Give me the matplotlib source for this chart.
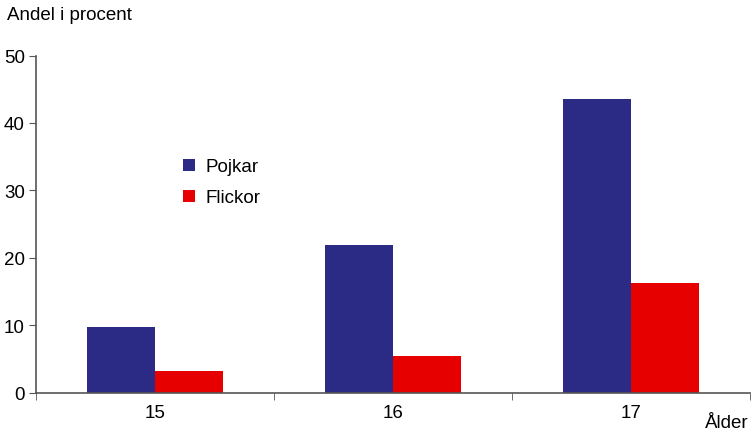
import matplotlib
matplotlib.use("Agg")
import matplotlib.pyplot as plt
import numpy as np

plt.rcParams['font.family'] = ['Liberation Sans', 'DejaVu Sans']

ages = ["15", "16", "17"]
pojkar = [9.7, 21.9, 43.6]
flickor = [3.2, 5.4, 16.3]
yticks = [0, 10, 20, 30, 40, 50]

blue = "#2B2A85"
red = "#E60000"
fs = 13.5

fig = plt.figure(figsize=(7.51, 4.35), dpi=100)
ax = fig.add_axes([36 / 751, (435 - 393.5) / 435, 714 / 751, 337 / 435])

x = np.arange(len(ages))
w = 0.286
ax.bar(x - w / 2, pojkar, width=w, color=blue, label="Pojkar")
ax.bar(x + w / 2, flickor, width=w, color=red, label="Flickor")

ax.set_xlim(-0.5, len(ages) - 0.5)
ax.set_ylim(0, 50)
ax.set_yticks(yticks)
ax.set_xticks(x)
ax.set_xticklabels(ages)
ax.set_xticks(np.arange(len(ages) + 1) - 0.5, minor=True)
ax.tick_params(axis='x', which='major', length=0, pad=8, labelsize=fs)
ax.tick_params(axis='x', which='minor', length=5, direction='out', color="#555555")
ax.tick_params(axis='y', length=5, direction='out', labelsize=fs, color="#555555", pad=3)

for s in ["top", "right"]:
    ax.spines[s].set_visible(False)
for s in ["left", "bottom"]:
    ax.spines[s].set_color("#555555")
    ax.spines[s].set_linewidth(1.2)

fig.text(7 / 751, 1 - 16 / 435, "Andel i procent", fontsize=fs, va="center", ha="left")
fig.text(749 / 751, 1 - 424 / 435, "Ålder", fontsize=fs, va="center", ha="right")

leg = ax.legend(loc="center left", bbox_to_anchor=(0.206, 0.624), frameon=False, fontsize=fs,
                handlelength=0.62, handleheight=0.62, handletextpad=0.55, labelspacing=0.75,
                borderpad=0, borderaxespad=0)

fig.savefig("out.png", dpi=100)
